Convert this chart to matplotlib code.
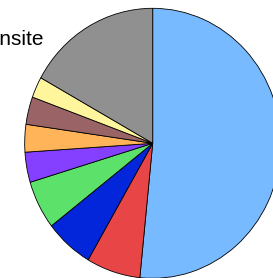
import matplotlib
matplotlib.use("Agg")
import matplotlib.pyplot as plt

# Slice shares (percent), clockwise from 12 o'clock
categories = ["Other", "Cat 2", "Cat 3", "Cat 4", "Cat 5", "Cat 6", "Cat 7", "Cat 8", "Onsite"]
values = [51.5, 6.8, 6.1, 5.8, 3.6, 3.3, 3.3, 2.5, 16.9]
colors = ["#78BAFF", "#E84646", "#0426DA", "#5CE26A", "#8540FF", "#FFB45A",
          "#9A6466", "#FFF59C", "#909090"]
label_text = "Onsite"

fig = plt.figure(figsize=(2.73, 2.78), dpi=100)
W, H = 273, 278
cx, cy = 152.7, 143.3
rx, ry = 128, 135
ax = fig.add_axes([(cx - rx) / W, (H - cy - ry) / H, 2 * rx / W, 2 * ry / H])
wedges, _ = ax.pie(values, colors=colors, startangle=90, counterclock=False,
                   wedgeprops=dict(edgecolor="black", linewidth=0.6))
for w in wedges:
    w.set_clip_on(False)
ax.set_aspect("auto")
ax.set_xlim(-1, 1)
ax.set_ylim(-1, 1)
ax.axis("off")

fig.text(-16.5 / W, (H - 45) / H, label_text, fontsize=15,
         family="Liberation Sans", ha="left", va="baseline", color="black")

fig.savefig("out.png", dpi=100)
